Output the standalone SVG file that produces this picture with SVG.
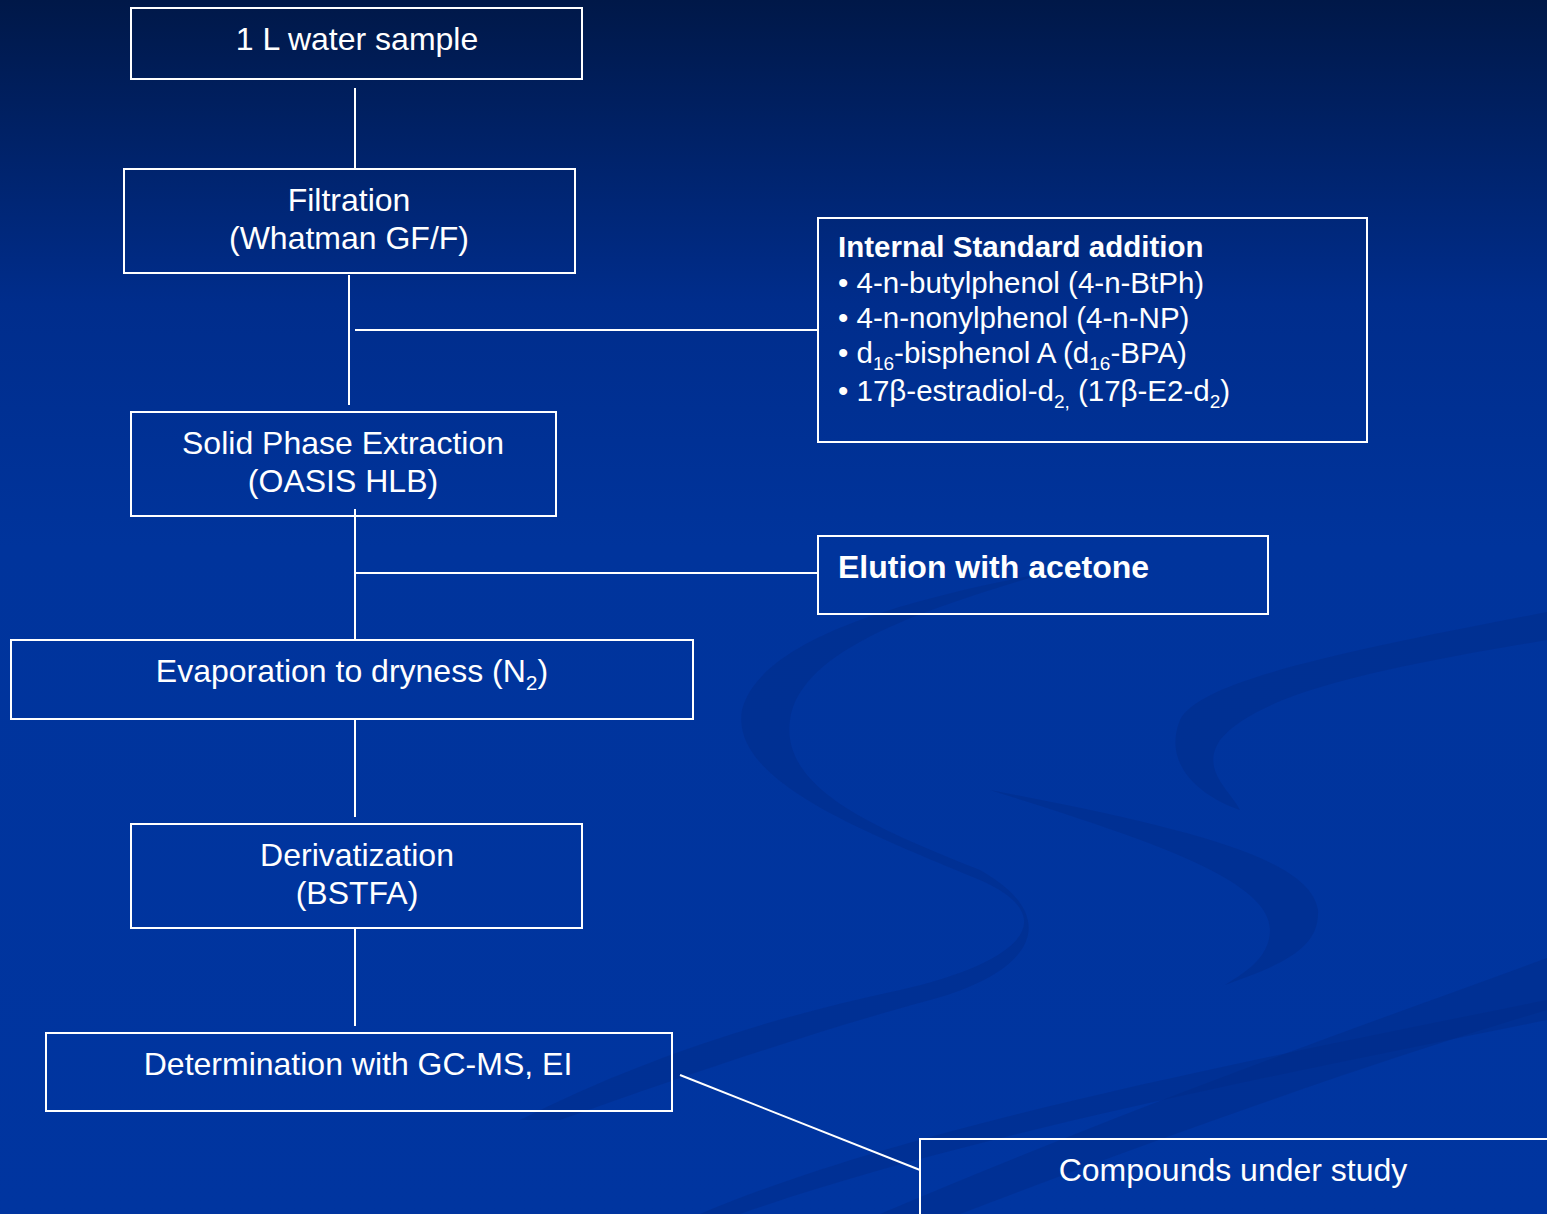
<svg xmlns="http://www.w3.org/2000/svg" width="1547" height="1214" viewBox="0 0 1547 1214">
<defs>
<linearGradient id="bg" x1="0" y1="0" x2="0" y2="1">
<stop offset="0" stop-color="#001848"/>
<stop offset="0.25" stop-color="#002d8c"/>
<stop offset="0.45" stop-color="#00349c"/>
<stop offset="1" stop-color="#0035a0"/>
</linearGradient>
<style>
.box{fill:none;stroke:#ffffff;stroke-width:2}
.ln{stroke:#ffffff;stroke-width:2;fill:none}
.t{font-family:"Liberation Sans",Arial,sans-serif;font-size:32px;fill:#ffffff}
.c{text-anchor:middle}
.s{font-family:"Liberation Sans",Arial,sans-serif;font-size:29.5px;fill:#ffffff}
.b{font-weight:bold}
.sw{fill:#002a85;opacity:0.4}
</style>
</defs>
<rect x="0" y="0" width="1547" height="1214" fill="url(#bg)"/>
<g id="background-swooshes">
<path class="sw" d="M1050,572 C900,600 760,640 742,710 C730,780 860,830 980,880 C1060,915 1030,960 900,990 C760,1020 640,1060 520,1120 L560,1120 C700,1070 820,1030 930,1000 C1040,970 1060,915 980,870 C880,830 780,790 790,720 C800,650 920,610 1050,572 Z"/>
<path class="sw" d="M1547,612 C1350,650 1200,680 1180,720 C1160,770 1210,800 1240,810 C1230,790 1200,770 1220,740 C1260,690 1400,665 1547,640 Z"/>
<path class="sw" d="M990,790 C1150,840 1270,880 1270,930 C1270,960 1240,975 1225,985 C1280,965 1320,950 1318,910 C1310,860 1200,830 990,790 Z"/>
<path class="sw" d="M1547,958 C1350,1030 1150,1100 880,1214 L960,1214 C1180,1130 1380,1060 1547,1010 Z"/>
<path class="sw" d="M1547,1000 C1200,1070 900,1130 700,1214 L740,1214 C950,1140 1250,1080 1547,1020 Z" opacity="0.25"/>
</g>
<g id="connectors">
<line class="ln" x1="355" y1="88" x2="355" y2="168"/>
<line class="ln" x1="349" y1="275" x2="349" y2="405"/>
<line class="ln" x1="355" y1="330" x2="818" y2="330"/>
<line class="ln" x1="355" y1="509" x2="355" y2="640"/>
<line class="ln" x1="355" y1="573" x2="818" y2="573"/>
<line class="ln" x1="355" y1="720" x2="355" y2="817"/>
<line class="ln" x1="355" y1="929" x2="355" y2="1026"/>
<line class="ln" x1="680" y1="1075" x2="920" y2="1170"/>
</g>
<g id="node-water">
<rect class="box" x="131" y="8" width="451" height="71"/>
<text class="t c" x="357" y="50">1 L water sample</text>
</g>
<g id="node-filtration">
<rect class="box" x="124" y="169" width="451" height="104"/>
<text class="t c" x="349" y="211">Filtration</text>
<text class="t c" x="349" y="249">(Whatman GF/F)</text>
</g>
<g id="node-internal-standard">
<rect class="box" x="818" y="218" width="549" height="224"/>
<text class="s b" x="838" y="257">Internal Standard addition</text>
<text class="s" x="838" y="293">• 4-n-butylphenol (4-n-BtPh)</text>
<text class="s" x="838" y="328">• 4-n-nonylphenol (4-n-NP)</text>
<text class="s" x="838" y="363">• d<tspan font-size="19" dy="7">16</tspan><tspan dy="-7">-bisphenol A (d</tspan><tspan font-size="19" dy="7">16</tspan><tspan dy="-7">-BPA)</tspan></text>
<text class="s" x="838" y="401">• 17β-estradiol-d<tspan font-size="19" dy="7">2,</tspan><tspan dy="-7"> (17β-E2-d</tspan><tspan font-size="19" dy="7">2</tspan><tspan dy="-7">)</tspan></text>
</g>
<g id="node-spe">
<rect class="box" x="131" y="412" width="425" height="104"/>
<text class="t c" x="343" y="454">Solid Phase Extraction</text>
<text class="t c" x="343" y="492">(OASIS HLB)</text>
</g>
<g id="node-elution">
<rect class="box" x="818" y="536" width="450" height="78"/>
<text class="t b" x="838" y="578">Elution with acetone</text>
</g>
<g id="node-evaporation">
<rect class="box" x="11" y="640" width="682" height="79"/>
<text class="t c" x="352" y="682">Evaporation to dryness (N<tspan font-size="21" dy="8">2</tspan><tspan dy="-8">)</tspan></text>
</g>
<g id="node-derivatization">
<rect class="box" x="131" y="824" width="451" height="104"/>
<text class="t c" x="357" y="866">Derivatization</text>
<text class="t c" x="357" y="904">(BSTFA)</text>
</g>
<g id="node-determination">
<rect class="box" x="46" y="1033" width="626" height="78"/>
<text class="t c" x="358" y="1075">Determination with GC-MS, EI</text>
</g>
<g id="node-compounds">
<rect class="box" x="920" y="1139" width="640" height="90"/>
<text class="t c" x="1233" y="1181">Compounds under study</text>
</g>
</svg>
